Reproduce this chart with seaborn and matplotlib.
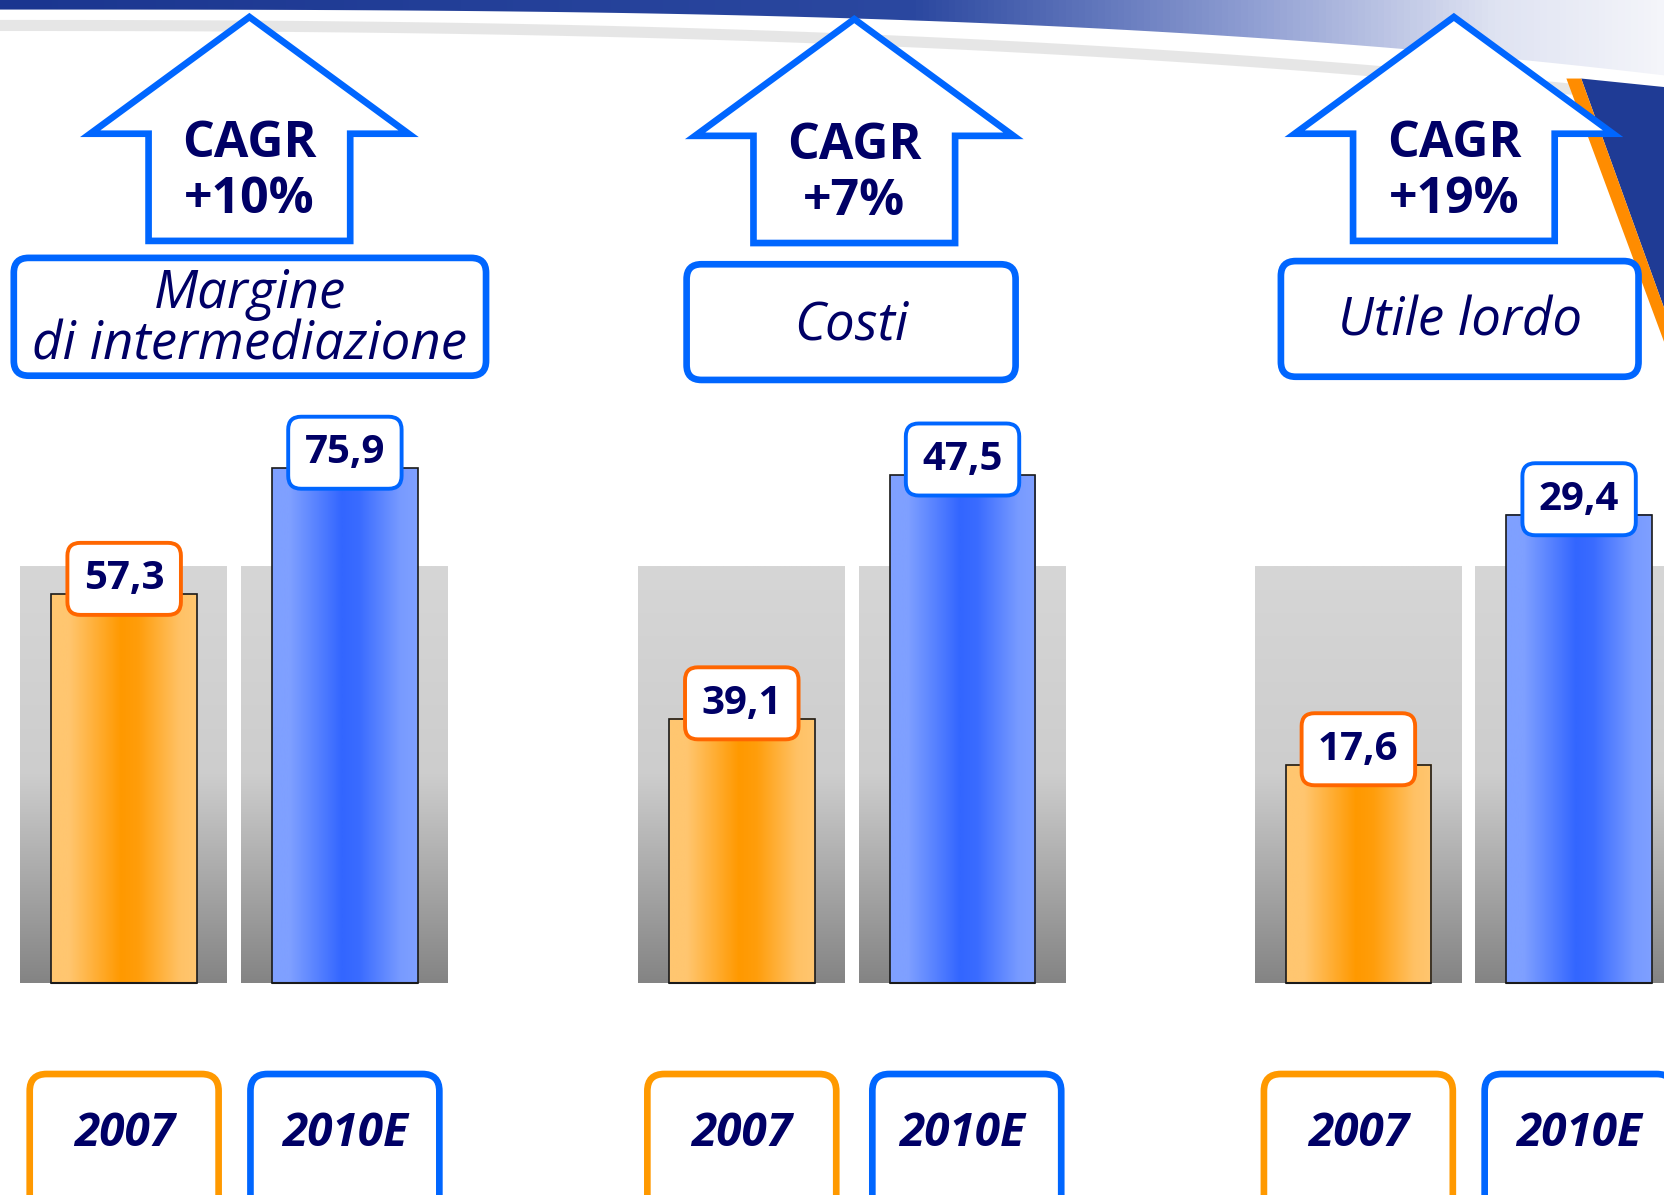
import numpy as np
import pandas as pd
import matplotlib
matplotlib.use("Agg")
import matplotlib.pyplot as plt
import matplotlib.transforms as mtransforms
import seaborn as sns
from matplotlib.patches import Polygon, FancyBboxPatch
from matplotlib.colors import LinearSegmentedColormap

# ---- data ----
titles = ["Margine\ndi intermediazione", "Costi", "Utile lordo"]
cagr_labels = ["CAGR\n+10%", "CAGR\n+7%", "CAGR\n+19%"]
years = ["2007", "2010E"]
val_2007 = [57.3, 39.1, 17.6]
val_2010 = [75.9, 47.5, 29.4]

# value range shown in each panel (the slide uses its own scale per panel)
y_ranges = [(0, 85.6), (30, 50), (7.3, 34.7)]

NAVY = "#000066"
BLUE = "#0066FF"
ORANGE = "#FF9900"
LABEL_OR = "#FF6600"

# layout canvas (same aspect as the output image)
W, H = 1568, 1126
BASE = 926      # bar baseline
AX_TOP = 379    # top of the bar area
UNIT = 208      # distance between the two bars of a panel
first_bar_x = [117, 699, 1280]
arrow_cx = [235, 805, 1370]
arrow_top = [12, 14, 12]
title_boxes = [(13, 243, 458, 354), (647, 249, 957, 358), (1207, 246, 1544, 355)]

sns.set_theme(style="white")
plt.rcParams["font.family"] = ["Open Sans", "DejaVu Sans"]

fig = plt.figure(figsize=(16.64, 11.95), dpi=100)
bg = fig.add_axes([0, 0, 1, 1])

# top banner of the slide template
bx = np.linspace(0, W, 60)
by = 9 + 62 * (bx / W) ** 3
band = Polygon([(0, 0), (W, 0)] + list(zip(bx[::-1], by[::-1])), closed=True, fc="none", ec="none")
bg.add_patch(band)
band_cmap = LinearSegmentedColormap.from_list(
    "band", [(0, "#1b3690"), (0.55, "#2b48a0"), (0.75, "#8e9dd2"), (0.9, "#dfe3f2"), (1, "#f4f5fa")])
im = bg.imshow(np.linspace(0, 1, 256)[None, :], cmap=band_cmap, extent=(0, W, 80, 0), aspect="auto", zorder=0)
im.set_clip_path(band)
sx = np.linspace(0, 1480, 60)
bg.plot(sx, 24 + 60 * (sx / 1480) ** 2.5, color="#cfcfcf", lw=8, alpha=0.5, zorder=0.4)
bg.add_patch(Polygon([(1490, 74), (1568, 82), (1568, 290)], closed=True, fc="#1f3b95", ec="none", zorder=0.6))
bg.add_patch(Polygon([(1476, 74), (1490, 74), (1568, 290), (1568, 322)], closed=True,
                     fc="#FF8C00", ec="none", zorder=0.6))

# CAGR arrows
for cx, top, lab in zip(arrow_cx, arrow_top, cagr_labels):
    pts = [(cx, top + 4), (cx + 150, top + 114), (cx + 95, top + 114), (cx + 95, top + 215),
           (cx - 95, top + 215), (cx - 95, top + 114), (cx - 150, top + 114)]
    bg.add_patch(Polygon(pts, closed=True, fc="white", ec=BLUE, lw=4.8, joinstyle="miter", zorder=2))
    bg.text(cx, top + 150, lab, ha="center", va="center", fontsize=36, fontweight="bold",
            color=NAVY, linespacing=1.16, zorder=3)

# panel titles
for (x0, y0, x1, y1), t in zip(title_boxes, titles):
    bg.add_patch(FancyBboxPatch((x0, y0), x1 - x0, y1 - y0, boxstyle="round,pad=0,rounding_size=14",
                                fc="white", ec=BLUE, lw=4.8, zorder=2))
    bg.text((x0 + x1) / 2, (y0 + y1) / 2 + 3, t, ha="center", va="center", fontsize=38,
            style="italic", color=NAVY, linespacing=0.95, zorder=3)

# year boxes under the bars
for p in range(3):
    for i, ec in enumerate([ORANGE, BLUE]):
        cx = first_bar_x[p] + i * UNIT + (4 * i if p == 1 else 0)
        bg.add_patch(FancyBboxPatch((cx - 89, 1012), 178, 160, boxstyle="round,pad=0,rounding_size=16",
                                    fc="white", ec=ec, lw=4.8, zorder=2))

bg.set_xlim(0, W)
bg.set_ylim(H, 0)
bg.axis("off")

gray_cmap = LinearSegmentedColormap.from_list("gray", ["#d6d6d6", "#cdcdcd", "#848484"])
orange_cmap = LinearSegmentedColormap.from_list("org", ["#FFC670", "#FF9900"])
blue_cmap = LinearSegmentedColormap.from_list("blu", ["#7FA0FF", "#3366FF"])
vgrad = np.linspace(0, 1, 256)[:, None]
hgrad = np.interp(np.linspace(0, 1, 256), [0, 0.12, 0.48, 0.6, 0.88, 1], [0, 0, 1, 0.9, 0.1, 0])[None, :]

for p in range(3):
    x0 = first_bar_x[p] - UNIT / 2
    ax = fig.add_axes([x0 / W, 1 - BASE / H, 2 * UNIT / W, (BASE - AX_TOP) / H])
    df = pd.DataFrame({"year": years, "value": [val_2007[p], val_2010[p]]})
    sns.barplot(data=df, x="year", y="value", hue="year", palette=[ORANGE, BLUE], width=0.66,
                saturation=1, legend=False, edgecolor="#1a1a1a", linewidth=1.2, ax=ax)
    lo, hi = y_ranges[p]

    # grey backdrop behind each bar
    for i in range(2):
        ax.imshow(vgrad, cmap=gray_cmap, extent=(i - 0.47, i + 0.465, lo, lo + 0.717 * (hi - lo)),
                  aspect="auto", zorder=0.5)

    # shaded bars (gradient drawn over the visible part of each bar)
    for bar, cm in zip(ax.patches, [orange_cmap, blue_cmap]):
        bx0, bw, bh = bar.get_x(), bar.get_width(), bar.get_height()
        ax.imshow(hgrad, cmap=cm, extent=(bx0, bx0 + bw, max(0, lo), bh), aspect="auto", zorder=1.5)
        ax.plot([bx0, bx0 + bw], [max(0, lo)] * 2, color="#1a1a1a", lw=1.5, clip_on=False, zorder=2.1)
        bar.set_facecolor("none")
        bar.set_zorder(2)

    # value labels
    for i, v in enumerate([val_2007[p], val_2010[p]]):
        ax.annotate(f"{v:.1f}".replace(".", ","), xy=(i, v), xytext=(0, 11), textcoords="offset points",
                    ha="center", va="center", fontsize=29, fontweight="bold",
                    color=NAVY, annotation_clip=False, zorder=5,
                    bbox=dict(boxstyle="round,pad=0.41,rounding_size=0.32", fc="white",
                              ec=[LABEL_OR, BLUE][i], lw=2.8))

    # year labels
    trans = mtransforms.blended_transform_factory(ax.transData, ax.transAxes)
    for i, yr in enumerate(years):
        ax.text(i, -(1068 - BASE) / (BASE - AX_TOP), yr, transform=trans, ha="center", va="center",
                fontsize=33, fontweight="bold", style="italic", color=NAVY, clip_on=False)

    ax.set_xlim(-0.5, 1.5)
    ax.set_ylim(lo, hi)
    ax.axis("off")

fig.savefig("out.png", dpi=100)
